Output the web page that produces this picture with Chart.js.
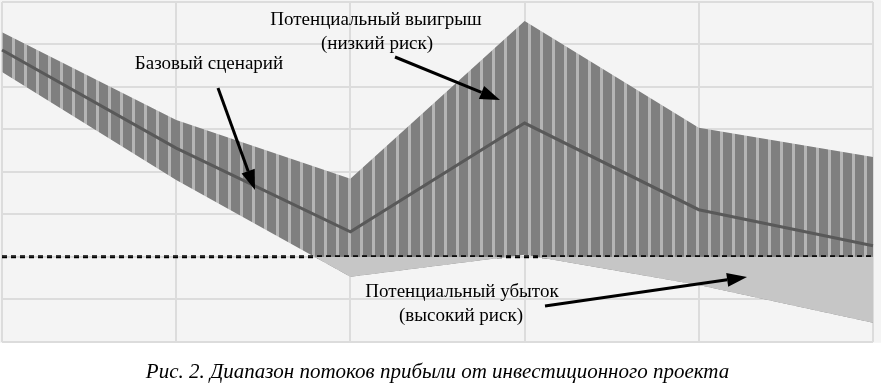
<!DOCTYPE html>
<html lang="ru">
<head>
  <meta charset="UTF-8">
  <title>Диапазон потоков прибыли от инвестиционного проекта</title>
  <script src="https://cdn.jsdelivr.net/npm/chart.js"></script>
  <style>
    body { margin: 0; background: white; }
    #wrap { width: 881px; height: 388px; }
  </style>
</head>
<body>
<div id="wrap"><canvas id="riskChart" width="881" height="388"></canvas></div>

<script>
  // периоды (подписей на оси нет)
  const periods = ["1", "2", "3", "4", "5", "6"];
  // верхняя граница диапазона (потенциальный выигрыш)
  const upperBound = [5.29, 3.22, 1.84, 5.55, 3.04, 2.35];
  // базовый сценарий
  const baseCase = [4.87, 2.56, 0.59, 3.15, 1.11, 0.26];
  // нижняя граница диапазона (потенциальный убыток)
  const lowerBound = [4.35, 1.81, -0.47, 0.05, -0.66, -1.55];
  // нулевая линия
  const zeroLine = [0, 0, 0, 0, 0, 0];

  const caption = "Рис. 2. Диапазон потоков прибыли от инвестиционного проекта";

  // штриховка: вертикальные полосы
  function makeStripes() {
    const c = document.createElement("canvas");
    c.width = 12;
    c.height = 4;
    const g = c.getContext("2d");
    g.fillStyle = "#7f7f7f";
    g.fillRect(0, 0, 12, 4);
    g.fillStyle = "#b5b5b5";
    g.fillRect(0, 0, 3, 4);
    return g.createPattern(c, "repeat");
  }

  const canvas = document.getElementById("riskChart");
  const ctx = canvas.getContext("2d");

  // серый фон области графика
  const bgPlugin = {
    id: "bg",
    beforeDraw(chart) {
      const c = chart.ctx;
      c.save();
      c.fillStyle = "#f4f4f4";
      c.fillRect(0, 0, chart.width, chart.chartArea.bottom + 1);
      c.restore();
    }
  };

  function arrow(c, x1, y1, x2, y2) {
    const a = Math.atan2(y2 - y1, x2 - x1);
    const len = 20, half = 7;
    const bx = x2 - Math.cos(a) * len, by = y2 - Math.sin(a) * len;
    c.beginPath();
    c.moveTo(x1, y1);
    c.lineTo(bx, by);
    c.stroke();
    c.beginPath();
    c.moveTo(x2, y2);
    c.lineTo(bx + Math.sin(a) * half, by - Math.cos(a) * half);
    c.lineTo(bx - Math.sin(a) * half, by + Math.cos(a) * half);
    c.closePath();
    c.fill();
  }

  // подписи и стрелки
  const notesPlugin = {
    id: "notes",
    afterDraw(chart) {
      const c = chart.ctx;
      c.save();
      c.fillStyle = "#000";
      c.strokeStyle = "#000";
      c.lineWidth = 3;
      c.font = "19px 'Liberation Serif'";
      c.textAlign = "center";
      c.textBaseline = "middle";
      c.fillText("Потенциальный выигрыш", 376, 20);
      c.fillText("(низкий риск)", 377, 44);
      c.fillText("Базовый сценарий", 209, 64);
      c.fillText("Потенциальный убыток", 462, 292);
      c.fillText("(высокий риск)", 461, 316);
      arrow(c, 218, 88, 255, 190);
      arrow(c, 395, 57, 500, 100);
      arrow(c, 545, 306, 747, 277);
      c.restore();
    }
  };

  new Chart(ctx, {
    type: "line",
    data: {
      labels: periods,
      datasets: [
        {
          label: "Потенциальный убыток",
          data: lowerBound,
          borderWidth: 0,
          pointRadius: 0,
          fill: { target: "origin", above: "rgba(0,0,0,0)", below: "#c6c6c6" }
        },
        {
          label: "Ноль",
          data: zeroLine,
          borderColor: "#000",
          borderWidth: 3,
          borderDash: [5, 4],
          pointRadius: 0,
          fill: false
        },
        {
          label: "Базовый сценарий",
          data: baseCase,
          borderColor: "#595959",
          borderWidth: 3,
          pointRadius: 0,
          fill: false
        },
        {
          label: "Потенциальный выигрыш",
          data: upperBound,
          borderWidth: 0,
          pointRadius: 0,
          backgroundColor: makeStripes(),
          fill: 0
        }
      ]
    },
    options: {
      responsive: false,
      animation: false,
      layout: { padding: { left: 2, right: 8, top: 2, bottom: 0 } },
      plugins: {
        legend: { display: false },
        tooltip: { enabled: false },
        title: {
          display: true,
          position: "bottom",
          text: caption,
          color: "#000",
          font: { family: "'Liberation Serif'", size: 21, style: "italic", weight: "normal" },
          padding: { top: 18, bottom: 3 }
        }
      },
      scales: {
        x: {
          offset: false,
          ticks: { display: false },
          border: { display: false },
          grid: { color: "#dcdcdc", lineWidth: 2, drawTicks: false }
        },
        y: {
          min: -2,
          max: 6,
          ticks: { display: false, stepSize: 1 },
          border: { display: false },
          grid: { color: "#dcdcdc", lineWidth: 2, drawTicks: false }
        }
      }
    },
    plugins: [bgPlugin, notesPlugin]
  });
</script>
</body>
</html>
